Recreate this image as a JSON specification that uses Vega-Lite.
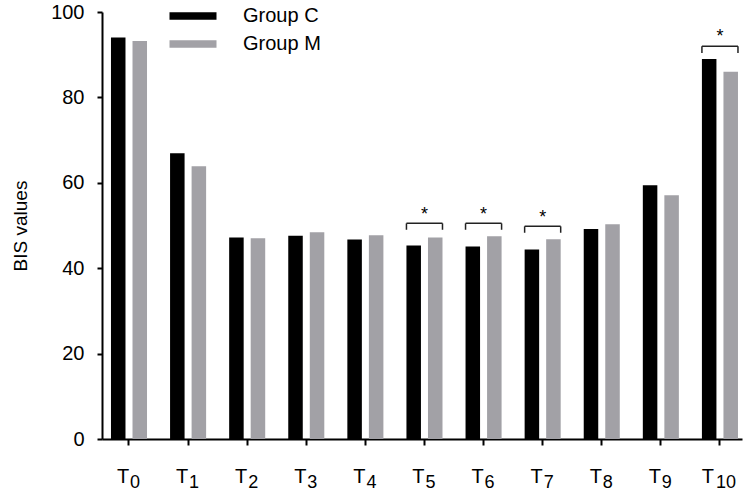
{
  "$schema": "https://vega.github.io/schema/vega-lite/v6.json",
  "width": 640,
  "height": 427,
  "autosize": {"type": "none"},
  "padding": {"left": 102, "top": 12, "right": 8, "bottom": 53},
  "background": "white",
  "config": {
    "view": {"stroke": null},
    "font": "Liberation Sans",
    "axis": {"labelFont": "Liberation Sans", "titleFont": "Liberation Sans", "labelColor": "#000", "titleColor": "#000", "grid": false, "domainColor": "#000", "tickColor": "#000", "domainWidth": 2, "tickWidth": 2},
    "legend": {"labelFont": "Liberation Sans"}
  },
  "datasets": {
    "bars": [
      {"t": "0", "group": "Group C", "value": 94.0},
      {"t": "0", "group": "Group M", "value": 93.2},
      {"t": "1", "group": "Group C", "value": 66.9},
      {"t": "1", "group": "Group M", "value": 63.9},
      {"t": "2", "group": "Group C", "value": 47.2},
      {"t": "2", "group": "Group M", "value": 47.0},
      {"t": "3", "group": "Group C", "value": 47.6},
      {"t": "3", "group": "Group M", "value": 48.4},
      {"t": "4", "group": "Group C", "value": 46.7},
      {"t": "4", "group": "Group M", "value": 47.7},
      {"t": "5", "group": "Group C", "value": 45.3},
      {"t": "5", "group": "Group M", "value": 47.2},
      {"t": "6", "group": "Group C", "value": 45.1},
      {"t": "6", "group": "Group M", "value": 47.5},
      {"t": "7", "group": "Group C", "value": 44.4},
      {"t": "7", "group": "Group M", "value": 46.8},
      {"t": "8", "group": "Group C", "value": 49.2},
      {"t": "8", "group": "Group M", "value": 50.3},
      {"t": "9", "group": "Group C", "value": 59.4},
      {"t": "9", "group": "Group M", "value": 57.1},
      {"t": "10", "group": "Group C", "value": 89.0},
      {"t": "10", "group": "Group M", "value": 86.0}
    ],
    "brackets": [
      {"t": "5", "top": 50.5, "bottom": 49.0, "star": 51.4},
      {"t": "6", "top": 50.5, "bottom": 49.0, "star": 51.4},
      {"t": "7", "top": 49.8, "bottom": 48.3, "star": 50.7},
      {"t": "10", "top": 92.0, "bottom": 90.4, "star": 92.9}
    ],
    "ticks": [
      {"t": "0"}, {"t": "1"}, {"t": "2"}, {"t": "3"}, {"t": "4"}, {"t": "5"},
      {"t": "6"}, {"t": "7"}, {"t": "8"}, {"t": "9"}, {"t": "10"}
    ]
  },
  "layer": [
    {
      "data": {"name": "bars"},
      "mark": {"type": "bar"},
      "encoding": {
        "x": {
          "field": "t", "type": "nominal",
          "scale": {"domain": ["0","1","2","3","4","5","6","7","8","9","10"], "paddingInner": 0.39, "paddingOuter": 0.11, "align": 0.69},
          "axis": {
            "title": null,
            "labelExpr": "'T'",
            "labelFontSize": 20,
            "labelAngle": 0,
            "labelAlign": "center",
            "labelBaseline": "alphabetic",
            "labelPadding": 37,
            "labelOffset": {"condition": {"test": "datum.value == '10'", "value": -12}, "value": -6},
            "tickSize": 6
          }
        },
        "xOffset": {"field": "group", "type": "nominal", "scale": {"paddingInner": 0.326, "paddingOuter": 0}},
        "y": {
          "field": "value", "type": "quantitative",
          "scale": {"domain": [0, 100], "nice": false},
          "axis": {
            "title": "BIS values",
            "titleFontSize": 19,
            "titleFontWeight": "normal",
            "titlePadding": 20,
            "values": [0, 20, 40, 60, 80, 100],
            "labelFontSize": 20,
            "labelPadding": 13,
            "tickSize": 5
          }
        },
        "color": {
          "field": "group", "type": "nominal",
          "scale": {"domain": ["Group C", "Group M"], "range": ["#000000", "#a2a1a6"]},
          "legend": {
            "title": null,
            "orient": "none",
            "legendX": 81,
            "legendY": -6,
            "padding": 0,
            "symbolType": "M-2.35,-0.38H2.35V0.38H-2.35Z",
            "symbolSize": 400,
            "symbolStrokeWidth": 0,
            "labelFontSize": 20,
            "labelColor": "#000",
            "labelOffset": 40,
            "rowPadding": 8
          }
        }
      }
    },
    {
      "data": {"name": "brackets"},
      "mark": {"type": "rule", "color": "#222", "strokeWidth": 1.5},
      "encoding": {
        "x": {"field": "t", "type": "nominal", "bandPosition": 0},
        "x2": {"field": "t", "bandPosition": 1},
        "y": {"field": "top", "type": "quantitative"}
      }
    },
    {
      "data": {"name": "brackets"},
      "mark": {"type": "rule", "color": "#222", "strokeWidth": 1.5},
      "encoding": {
        "x": {"field": "t", "type": "nominal", "bandPosition": 0},
        "y": {"field": "top", "type": "quantitative"},
        "y2": {"field": "bottom"}
      }
    },
    {
      "data": {"name": "brackets"},
      "mark": {"type": "rule", "color": "#222", "strokeWidth": 1.5},
      "encoding": {
        "x": {"field": "t", "type": "nominal", "bandPosition": 1},
        "y": {"field": "top", "type": "quantitative"},
        "y2": {"field": "bottom"}
      }
    },
    {
      "data": {"name": "brackets"},
      "mark": {"type": "text", "text": "*", "fontSize": 18, "baseline": "alphabetic", "align": "center", "color": "#000"},
      "encoding": {
        "x": {"field": "t", "type": "nominal"},
        "y": {"field": "star", "type": "quantitative"}
      }
    },
    {
      "data": {"name": "ticks"},
      "mark": {"type": "text", "fontSize": 18, "baseline": "alphabetic", "align": "center", "dx": 6, "color": "#000"},
      "encoding": {
        "x": {"field": "t", "type": "nominal"},
        "y": {"datum": -11.5, "type": "quantitative"},
        "text": {"field": "t"}
      }
    }
  ]
}
